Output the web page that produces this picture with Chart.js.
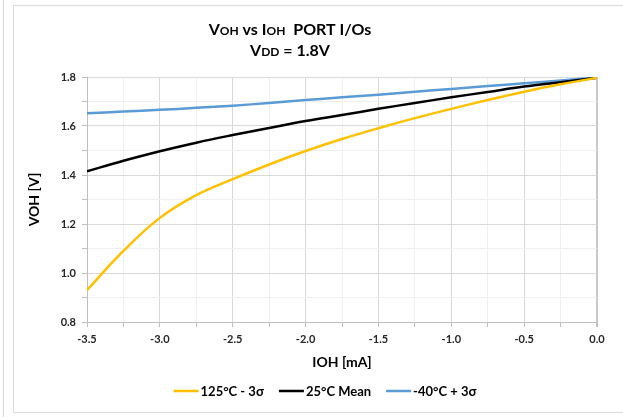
<!DOCTYPE html>
<html>
<head>
<meta charset="utf-8">
<script src="https://cdn.jsdelivr.net/npm/chart.js@4.4.0/dist/chart.umd.min.js"></script>
<style>
  html, body { margin: 0; padding: 0; background: #fff; }
  #wrap { width: 623px; height: 417px; }
</style>
</head>
<body>
<div id="wrap"><canvas id="vohChart" width="623" height="417"></canvas></div>
<script>
// IOH [mA] sample points
var ioh = [-3.5, -3.25, -3.0, -2.75, -2.5, -2.25, -2.0, -1.75, -1.5, -1.25, -1.0, -0.75, -0.5, -0.25, 0.0];
// VOH [V] per corner
var voh125 = [0.93, 1.09, 1.225, 1.318, 1.383, 1.443, 1.498, 1.547, 1.591, 1.632, 1.67, 1.706, 1.74, 1.77, 1.797];
var voh25 = [1.415, 1.458, 1.497, 1.532, 1.563, 1.592, 1.620, 1.645, 1.670, 1.694, 1.717, 1.739, 1.761, 1.779, 1.797];
var vohM40 = [1.652, 1.659, 1.666, 1.674, 1.683, 1.694, 1.706, 1.717, 1.728, 1.740, 1.751, 1.763, 1.774, 1.786, 1.797];
var seriesLabels = ['125°C - 3σ', '25°C Mean', '-40°C + 3σ'];

var FONT = 'Lato, "Open Sans", sans-serif';

function toPoints(ys) {
  return ys.map(function(y, i) { return { x: ioh[i], y: y }; });
}

function isMajor(v, step) {
  var n = Math.round(v / step * 2);
  return n % 2 === 0;
}

// frame, small-caps title and a compact legend
var decor = {
  id: 'decor',
  beforeDraw: function(chart) {
    var ctx = chart.ctx;
    ctx.save();
    ctx.fillStyle = '#fff';
    ctx.fillRect(0, 0, chart.width, chart.height);
    ctx.strokeStyle = '#d9d9d9';
    ctx.lineWidth = 1;
    ctx.beginPath();
    ctx.moveTo(3.5, 0); ctx.lineTo(3.5, chart.height);
    ctx.moveTo(13.5, 5.5); ctx.lineTo(13.5, 412.5); ctx.lineTo(chart.width, 412.5);
    ctx.moveTo(13.5, 5.5); ctx.lineTo(chart.width, 5.5);
    ctx.stroke();
    ctx.restore();
  },
  afterDraw: function(chart) {
    var ctx = chart.ctx;
    var big = 'bold 16px ' + FONT, small = 'bold 12px ' + FONT;
    var lines = [
      { y: 35, parts: [['V', big], ['OH', small], [' vs ', big], ['I', big], ['OH', small], ['  PORT I/Os', big]] },
      { y: 56, parts: [['V', big], ['DD', small], [' = 1.8V', big]] }
    ];
    ctx.save();
    ctx.fillStyle = '#000';
    ctx.textBaseline = 'alphabetic';
    ctx.textAlign = 'left';
    lines.forEach(function(line) {
      var w = 0;
      line.parts.forEach(function(p) { ctx.font = p[1]; w += ctx.measureText(p[0]).width; });
      var x = 290 - w / 2;
      line.parts.forEach(function(p) {
        ctx.font = p[1];
        ctx.fillText(p[0], x, line.y);
        x += ctx.measureText(p[0]).width;
      });
    });

    // legend
    var ds = chart.data.datasets;
    var lineLen = 25, gap = 2, spacing = 15, ly = 391;
    ctx.font = 'bold 13px ' + FONT;
    ctx.textBaseline = 'middle';
    var total = 0;
    ds.forEach(function(d, i) {
      total += lineLen + gap + ctx.measureText(d.label).width;
      if (i < ds.length - 1) total += spacing;
    });
    var x = 325 - total / 2;
    ds.forEach(function(d) {
      ctx.strokeStyle = d.borderColor;
      ctx.lineWidth = 2.5;
      ctx.beginPath();
      ctx.moveTo(x, ly); ctx.lineTo(x + lineLen, ly);
      ctx.stroke();
      x += lineLen + gap;
      ctx.fillStyle = '#000';
      ctx.fillText(d.label, x, ly + 1);
      x += ctx.measureText(d.label).width + spacing;
    });
    ctx.restore();
  }
};

var ctx = document.getElementById('vohChart').getContext('2d');
var vohChart = new Chart(ctx, {
  type: 'line',
  data: {
    datasets: [{
      label: seriesLabels[0],
      data: toPoints(voh125),
      borderColor: '#FFC000',
      backgroundColor: '#FFC000'
    }, {
      label: seriesLabels[1],
      data: toPoints(voh25),
      borderColor: '#000000',
      backgroundColor: '#000000'
    }, {
      label: seriesLabels[2],
      data: toPoints(vohM40),
      borderColor: '#5B9BD5',
      backgroundColor: '#5B9BD5'
    }]
  },
  options: {
    responsive: false,
    animation: false,
    layout: { padding: { left: 20, right: 26, top: 77, bottom: 40 } },
    elements: {
      line: { borderWidth: 2.5, tension: 0.4, fill: false },
      point: { radius: 0, hoverRadius: 0 }
    },
    plugins: {
      title: { display: false },
      tooltip: { enabled: false },
      legend: { display: false }
    },
    scales: {
      x: {
        type: 'linear',
        min: -3.5,
        max: 0,
        afterFit: function(scale) { scale.height = 55; },
        ticks: {
          stepSize: 0.25,
          autoSkip: false,
          maxRotation: 0,
          padding: 6,
          color: '#262626',
          font: { family: FONT, size: 11, weight: 'bold' },
          callback: function(v) { return isMajor(v, 0.5) ? v.toFixed(1) : ''; }
        },
        grid: {
          tickLength: 5,
          color: function(c) {
            if (c.tick && c.tick.value === 0) return '#c8c8c8';
            return c.tick && isMajor(c.tick.value, 0.5) ? '#d9d9d9' : '#efefef';
          },
          lineWidth: function(c) { return c.tick && c.tick.value === 0 ? 2 : 1; },
          tickColor: '#bfbfbf'
        },
        border: { color: '#bfbfbf' },
        title: {
          display: true,
          text: 'IOH [mA]',
          color: '#000',
          padding: { top: 0, bottom: 6 },
          font: { family: FONT, size: 14, weight: 'bold' }
        }
      },
      y: {
        min: 0.8,
        max: 1.8,
        afterFit: function(scale) { scale.width = 67; },
        ticks: {
          stepSize: 0.1,
          autoSkip: false,
          padding: 6,
          color: '#262626',
          font: { family: FONT, size: 11, weight: 'bold' },
          callback: function(v) { return isMajor(v, 0.2) ? v.toFixed(1) : ''; }
        },
        grid: {
          tickLength: 5,
          color: function(c) {
            return c.tick && isMajor(c.tick.value, 0.2) ? '#d9d9d9' : '#efefef';
          },
          tickColor: '#bfbfbf'
        },
        border: { color: '#bfbfbf' },
        title: {
          display: true,
          text: 'VOH [V]',
          color: '#000',
          padding: { top: 6, bottom: 0 },
          font: { family: FONT, size: 14, weight: 'bold' }
        }
      }
    }
  },
  plugins: [decor]
});
</script>
</body>
</html>
